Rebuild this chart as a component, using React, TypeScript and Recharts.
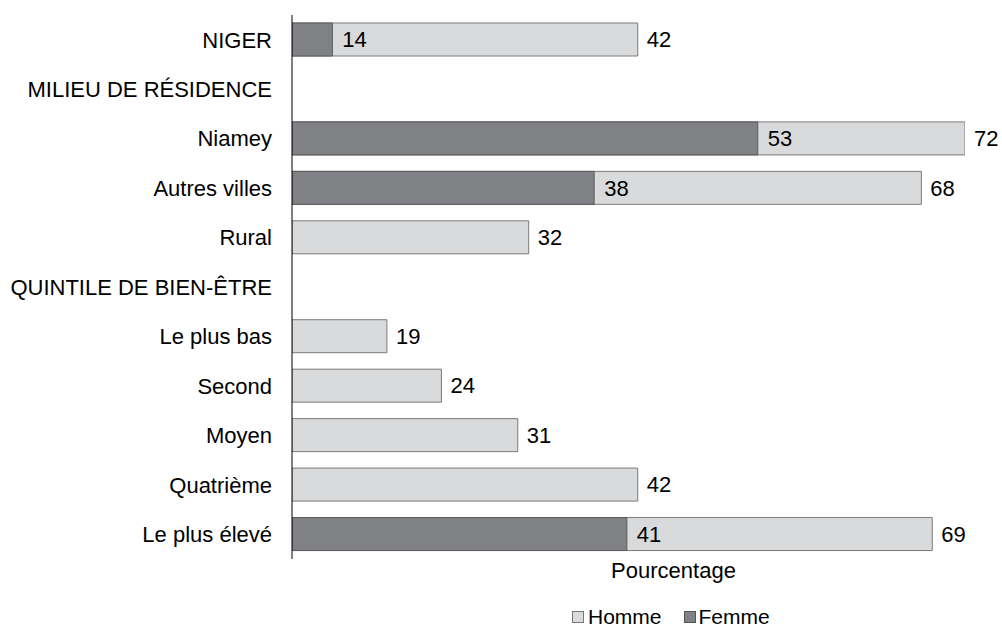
import React from 'react';
import { Bar, BarChart, LabelList, XAxis, YAxis } from 'recharts';

const categories = [
  'NIGER',
  'MILIEU DE RÉSIDENCE',
  'Niamey',
  'Autres villes',
  'Rural',
  'QUINTILE DE BIEN-ÊTRE',
  'Le plus bas',
  'Second',
  'Moyen',
  'Quatrième',
  'Le plus élevé',
];
const homme: (number | null)[] = [42, null, 72, 68, 32, null, 19, 24, 31, 42, 69];
const femme: (number | null)[] = [14, null, 53, 38, null, null, null, null, null, null, 41];

const data = categories.map((name, i) => ({ name, homme: homme[i], femme: femme[i] }));

const HOMME_FILL = '#d9dadb';
const FEMME_FILL = '#808184';
const FONT = '"Liberation Sans", Arial, sans-serif';
const FS = 22;

// legend drawn outside the chart so it doesn't eat plot height
const LegendBox = () => (
  <div
    style={{
      position: 'absolute',
      left: 572,
      top: 605,
      display: 'flex',
      alignItems: 'center',
      fontSize: 21,
      color: '#000',
      fontFamily: FONT,
    }}
  >
    <span style={{ width: 10, height: 10, background: HOMME_FILL, border: '1px solid #777', marginRight: 4 }} />
    <span style={{ marginRight: 22 }}>Homme</span>
    <span style={{ width: 10, height: 10, background: FEMME_FILL, border: '1px solid #555', marginRight: 3 }} />
    <span>Femme</span>
  </div>
);

const App: React.FC = () => (
  <div style={{ position: 'absolute', left: 0, top: 0, width: 1002, height: 626, background: '#fff', fontFamily: FONT }}>
    <BarChart
      width={1002}
      height={626}
      data={data}
      layout="vertical"
      margin={{ top: 15, right: 37, left: 0, bottom: 37 }}
      barSize={33}
      barGap={-33}
    >
      <XAxis
        type="number"
        domain={[10.3, 72]}
        allowDataOverflow
        tick={false}
        axisLine={false}
        tickLine={false}
        height={30}
        label={{ value: 'Pourcentage', position: 'insideBottom', offset: 11, dx: 45, fill: '#000', fontSize: FS }}
      />
      <YAxis
        type="category"
        dataKey="name"
        width={292}
        axisLine={{ stroke: '#000', strokeWidth: 1 }}
        tickLine={false}
        tickSize={0}
        tickMargin={20}
        interval={0}
        tick={{ fill: '#000', fontSize: FS }}
      />
      <Bar dataKey="homme" name="Homme" fill={HOMME_FILL} stroke="#7a7a7a" strokeWidth={1} isAnimationActive={false}>
        <LabelList dataKey="homme" position="right" offset={9} fill="#000" fontSize={FS} />
      </Bar>
      <Bar dataKey="femme" name="Femme" fill={FEMME_FILL} stroke="#5a5a5a" strokeWidth={1} isAnimationActive={false}>
        <LabelList dataKey="femme" position="right" offset={10} fill="#000" fontSize={FS} />
      </Bar>
    </BarChart>
    <LegendBox />
  </div>
);

export default App;
